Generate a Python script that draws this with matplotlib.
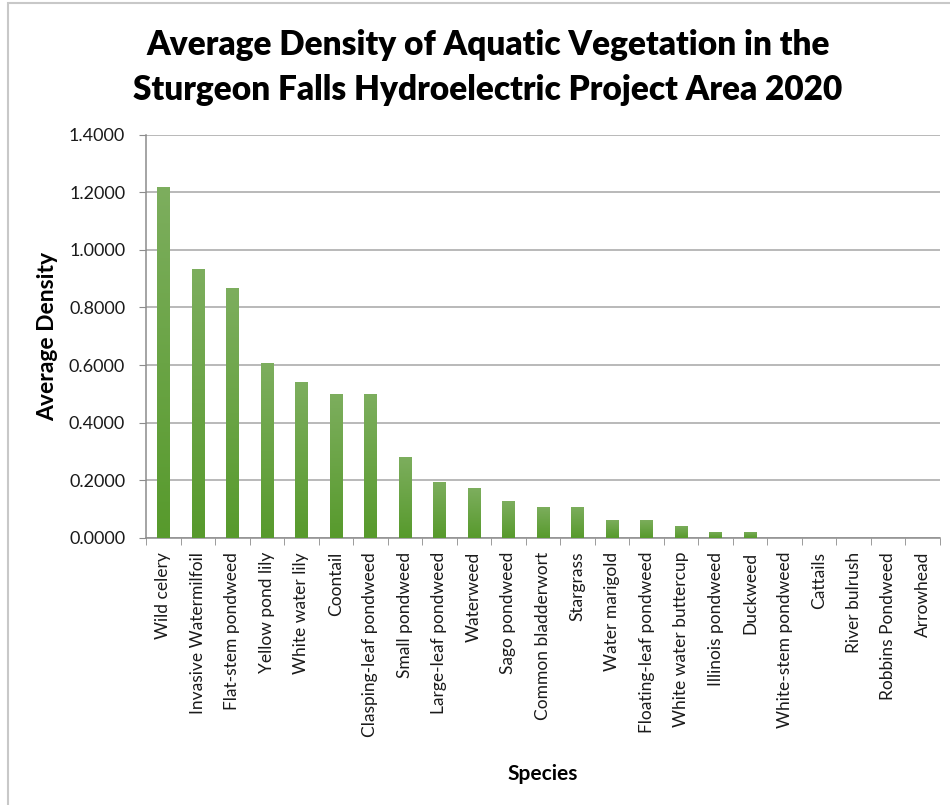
import matplotlib
matplotlib.use('Agg')
import numpy as np
import matplotlib.pyplot as plt
from matplotlib.patches import Rectangle
from matplotlib.colors import LinearSegmentedColormap
from matplotlib.ticker import FormatStrFormatter, FixedLocator

# Species and their average density
species = [
    'Wild celery', 'Invasive Watermilfoil', 'Flat-stem pondweed', 'Yellow pond lily',
    'White water lily', 'Coontail', 'Clasping-leaf pondweed', 'Small pondweed',
    'Large-leaf pondweed', 'Waterweed', 'Sago pondweed', 'Common bladderwort',
    'Stargrass', 'Water marigold', 'Floating-leaf pondweed', 'White water buttercup',
    'Illinois pondweed', 'Duckweed', 'White-stem pondweed', 'Cattails',
    'River bulrush', 'Robbins Pondweed', 'Arrowhead',
]
density = [
    1.217, 0.934, 0.869, 0.607,
    0.543, 0.500, 0.500, 0.282,
    0.195, 0.172, 0.128, 0.108,
    0.108, 0.064, 0.064, 0.042,
    0.021, 0.021, 0.0, 0.0,
    0.0, 0.0, 0.0,
]
y_ticks = [0.0, 0.2, 0.4, 0.6, 0.8, 1.0, 1.2, 1.4]

font = 'Lato'
text_color = '#1a1a1a'

fig = plt.figure(figsize=(9.5, 8.05), dpi=100)
ax = fig.add_axes([146 / 950, 1 - 538 / 805, 794 / 950, (538 - 134.6) / 805])

x = list(range(len(species)))
bars = ax.bar(x, density, width=0.36, color='#64a03a', zorder=3)

# vertical gradient on each bar, lighter at the top like the original
green = LinearSegmentedColormap.from_list('green', ['#579a2c', '#7dae5e'])
grad = np.linspace(0, 1, 256).reshape(-1, 1)
for b in bars:
    if b.get_height() <= 0:
        continue
    im = ax.imshow(grad, cmap=green, origin='lower', aspect='auto', zorder=4,
                   extent=[b.get_x(), b.get_x() + b.get_width(), 0, b.get_height()])
    im.set_clip_path(b)

ax.set_xlim(-0.5, len(species) - 0.5)
ax.set_ylim(0, 1.4)
ax.set_yticks(y_ticks)
ax.yaxis.set_major_formatter(FormatStrFormatter('%.4f'))
ax.yaxis.grid(True, color='#a6a6a6', linewidth=1.1, zorder=0)

ax.set_xticks(x)
ax.set_xticklabels(species, rotation=90, fontsize=12.5, family=font, color=text_color)
ax.tick_params(axis='x', which='major', length=0, pad=10)
ax.xaxis.set_minor_locator(FixedLocator([i - 0.5 for i in range(len(species) + 1)]))
ax.tick_params(axis='x', which='minor', length=5, color='#8c8c8c', direction='out')
ax.tick_params(axis='y', length=5, color='#8c8c8c', labelsize=13, pad=10)
for lab in ax.get_yticklabels():
    lab.set_family(font)
    lab.set_color(text_color)

for side in ['top', 'right']:
    ax.spines[side].set_visible(False)
for side in ['left', 'bottom']:
    ax.spines[side].set_color('#8c8c8c')
    ax.spines[side].set_linewidth(1.1)

ax.set_xlabel('Species', fontsize=15, fontweight='bold', family=font, labelpad=20)
ax.set_ylabel('Average Density', fontsize=16.5, fontweight='bold', family=font, labelpad=8)

fig.text(488 / 950, 1 - 45 / 805, 'Average Density of Aquatic Vegetation in the',
         ha='center', va='center', fontsize=24, fontweight='heavy', family=font)
fig.text(488 / 950, 1 - 90 / 805, 'Sturgeon Falls Hydroelectric Project Area 2020',
         ha='center', va='center', fontsize=24, fontweight='heavy', family=font)

# light frame around the chart area
fig.patches.append(Rectangle((8 / 950, -0.1), 1.2, 1.1 - 3 / 805, transform=fig.transFigure,
                             fill=False, edgecolor='#c8c8c8', linewidth=1.5))

fig.savefig('out.png', dpi=100)
